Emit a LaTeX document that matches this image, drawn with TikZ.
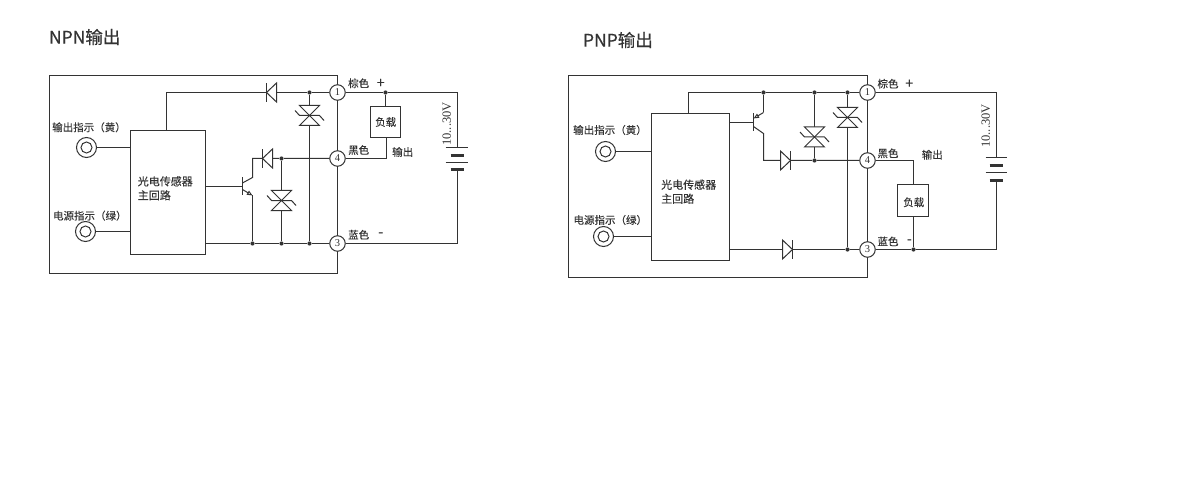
\documentclass[tikz,border=0pt]{standalone}
\usepackage{fontspec}
\usepackage{xcolor}
\usepackage{tikz}
\usetikzlibrary{shapes,arrows,arrows.meta}
\setmainfont{Liberation Serif}
\newfontfamily\cjk{Noto Sans CJK SC}[FakeBold=0.1]
\newfontfamily\cjkhead{Noto Sans CJK SC}[FakeBold=0.45]
\definecolor{ink}{HTML}{333333}

\begin{document}
\begin{tikzpicture}[x=1pt, y=-1pt, line width=1pt, color=ink]
\tikzstyle{heading} = [font=\cjkhead\fontsize{17.5}{20}\selectfont, anchor=west, inner sep=0]
\tikzstyle{lbl} = [font=\cjk\fontsize{10.5}{13}\selectfont, inner sep=0]
\tikzstyle{mainlbl} = [font=\cjk\fontsize{11}{14}\selectfont, inner sep=0, anchor=west, align=left]
\tikzstyle{sign} = [font=\cjk\fontsize{14}{16}\selectfont, inner sep=0]
\tikzstyle{volt} = [font=\fontsize{12.5}{14}\selectfont, inner sep=0, rotate=90]
\tikzstyle{box} = [rectangle, draw, inner sep=0, outer sep=0]
\tikzstyle{term} = [circle, draw, fill=white, inner sep=0, minimum size=15.5, font=\fontsize{10.5}{12}\selectfont]
\tikzstyle{lamp} = [circle, draw, inner sep=0, minimum size=20]
\tikzstyle{lampcore} = [circle, draw, inner sep=0, minimum size=11]
\tikzstyle{dot} = [circle, fill, inner sep=0, minimum size=4.2]
\tikzstyle{plate} = [line width=2.4pt]
\tikzset{
	diode/.pic = {
		\draw[fill=white] (-10,-9.5) -- (-10,9.5) -- (0,0) -- cycle;
		\draw (0,-9.5) -- (0,9.5);
	},
	tvs/.pic = {
		\draw[fill=white] (-10,-10) -- (10,-10) -- (-10,10) -- (10,10) -- cycle;
		\draw (-14.5,-5) -- (-10,0) -- (10,0) -- (14.5,5);
	}
}
\useasboundingbox (0,0) rectangle (1200,500);

\node[heading] (npnTitle) at (48.5,37) {NPN输出};
\node[box, minimum width=288, minimum height=198] (npnFrame) at (193.5,174.5) {};
\node[box, minimum width=75, minimum height=124] (npnMain) at (168,192.5) {};
\node[mainlbl] (npnMainText) at (137.3,188.3) {光电传感器\\主回路};
\node[lbl] (npnOutText) at (89,127.3) {输出指示（黄）};
\node[lbl] (npnPowText) at (89.8,215.7) {电源指示（绿）};
\node[lamp] (npnOutLamp) at (86.5,147.5) {};
\node[lampcore] (npnOutCore) at (86.5,147.5) {};
\node[lamp] (npnPowLamp) at (85.5,231.5) {};
\node[lampcore] (npnPowCore) at (85.5,231.5) {};
\node[term] (npnPin1) at (337.5,92.5) {1};
\node[term] (npnPin4) at (337.5,158.5) {4};
\node[term] (npnPin3) at (337.5,243.5) {3};
\node[box, minimum width=30, minimum height=31] (npnLoad) at (385.5,122) {};
\node[lbl] (npnLoadText) at (385.7,122) {负载};
\node[lbl] (npnBrown) at (358.7,83.3) {棕色};
\node[sign] (npnPlus) at (380.7,83.3) {+};
\node[lbl] (npnBlack) at (358.7,150) {黑色};
\node[lbl] (npnOutput) at (402.7,152) {输出};
\node[lbl] (npnBlue) at (358.7,234.7) {蓝色};
\node[sign] (npnMinus) at (380.7,234.7) {-};
\node[volt] (npnVolt) at (446.7,124) {10...30V};
\node[dot] (npnDotA) at (309.5,92.5) {};
\node[dot] (npnDotB) at (385.5,92.5) {};
\node[dot] (npnDotC) at (281.5,158.5) {};
\node[dot] (npnDotD) at (252.5,243.5) {};
\node[dot] (npnDotE) at (281.5,243.5) {};
\node[dot] (npnDotF) at (309.5,243.5) {};
\coordinate (npnTop) at (166.5,92.5);
\coordinate (npnBat) at (457.5,92.5);
\coordinate (npnBatEnd) at (457.5,243.5);
\coordinate (npnPlateA) at (457.5,147.5);
\coordinate (npnPlateD) at (457.5,169.5);
\coordinate (npnColl) at (252.5,158.5);
\coordinate (npnCollEnd) at (252.5,177.5);
\coordinate (npnBase) at (242.5,186.5);
\coordinate (npnEmit) at (252.5,195.5);
\coordinate (npnLoadOut) at (386.5,137.5);
\coordinate (npnLoadEnd) at (386.5,158.5);
\draw (npnOutLamp) -- (npnOutLamp -| npnMain.west);
\draw (npnPowLamp) -- (npnPowLamp -| npnMain.west);
\draw (npnMain.north -| npnTop) -- (npnTop) -- (npnDotA) -- (npnPin1);
\draw (npnPin1) -- (npnDotB) -- (npnBat) -- (npnPlateA);
\draw (npnDotB) -- (npnLoad);
\draw (npnLoadOut) -- (npnLoadEnd) -- (npnPin4);
\draw (npnPin4) -- (npnDotC) -- (npnColl) -- (npnCollEnd) -- (242.5,183);
\draw (npnDotA) -- (npnDotF);
\draw (npnDotC) -- (npnDotE);
\draw (npnMain.east |- npnDotD) -- (npnDotD) -- (npnDotE) -- (npnDotF) -- (npnPin3);
\draw (npnPin3) -- (npnBatEnd) -- (npnPlateD);
\draw (npnMain.east |- npnBase) -- (npnBase);
\draw (242.5,177.5) -- (242.5,195.5);
\draw[-{Triangle[open, length=5.5, width=4.5]}] (242.5,189.5) -- (npnEmit);
\draw (npnEmit) -- (npnDotD);
\draw (445.5,147.5) -- (467.5,147.5);
\draw[plate] (450.5,155.5) -- (463.5,155.5);
\draw (445.5,162.5) -- (467.5,162.5);
\draw[plate] (450.5,169.5) -- (463.5,169.5);
\pic[rotate=180] at (266.5,92.5) {diode};
\pic[rotate=180] at (262.5,158.5) {diode};
\pic at (309.5,115.5) {tvs};
\pic at (281.5,200.5) {tvs};

\node[heading] (pnpTitle) at (582.5,40) {PNP输出};
\node[box, minimum width=299, minimum height=202] (pnpFrame) at (718,176.5) {};
\node[box, minimum width=78, minimum height=147] (pnpMain) at (690.5,187) {};
\node[mainlbl] (pnpMainText) at (660.7,191.7) {光电传感器\\主回路};
\node[lbl] (pnpOutText) at (610,130) {输出指示（黄）};
\node[lbl] (pnpPowText) at (610.3,220) {电源指示（绿）};
\node[lamp] (pnpOutLamp) at (605.5,151.5) {};
\node[lampcore] (pnpOutCore) at (605.5,151.5) {};
\node[lamp] (pnpPowLamp) at (603.5,236.5) {};
\node[lampcore] (pnpPowCore) at (603.5,236.5) {};
\node[term] (pnpPin1) at (867.5,92.5) {1};
\node[term] (pnpPin4) at (867.5,160.5) {4};
\node[term] (pnpPin3) at (867.5,249.5) {3};
\node[box, minimum width=31, minimum height=32] (pnpLoad) at (913,200.5) {};
\node[lbl] (pnpLoadText) at (913.7,202.3) {负载};
\node[lbl] (pnpBrown) at (888,83.7) {棕色};
\node[sign] (pnpPlus) at (909.3,84) {+};
\node[lbl] (pnpBlack) at (888,153.3) {黑色};
\node[lbl] (pnpOutput) at (932.3,154.7) {输出};
\node[lbl] (pnpBlue) at (888,241.3) {蓝色};
\node[sign] (pnpMinus) at (909.3,241.7) {-};
\node[volt] (pnpVolt) at (985.7,126) {10...30V};
\node[dot] (pnpDotA) at (763.5,92.5) {};
\node[dot] (pnpDotB) at (814.5,92.5) {};
\node[dot] (pnpDotC) at (847.5,92.5) {};
\node[dot] (pnpDotD) at (814.5,160.5) {};
\node[dot] (pnpDotE) at (847.5,249.5) {};
\node[dot] (pnpDotF) at (913.5,249.5) {};
\coordinate (pnpTop) at (688.5,92.5);
\coordinate (pnpBat) at (996.5,92.5);
\coordinate (pnpBatEnd) at (996.5,249.5);
\coordinate (pnpPlateA) at (996.5,157.5);
\coordinate (pnpPlateD) at (996.5,180.5);
\coordinate (pnpEmit) at (763.5,112.5);
\coordinate (pnpCollEnd) at (763.5,133.5);
\coordinate (pnpColl) at (763.5,160.5);
\coordinate (pnpBase) at (753.5,122.5);
\coordinate (pnpLoadIn) at (913.5,160.5);
\draw (pnpOutLamp) -- (pnpOutLamp -| pnpMain.west);
\draw (pnpPowLamp) -- (pnpPowLamp -| pnpMain.west);
\draw (pnpMain.north -| pnpTop) -- (pnpTop) -- (pnpDotA) -- (pnpDotB) -- (pnpDotC) -- (pnpPin1);
\draw (pnpPin1) -- (pnpBat) -- (pnpPlateA);
\draw (pnpDotA) -- (pnpEmit);
\draw[-{Triangle[open, length=5.5, width=4.5]}] (pnpEmit) -- (753.5,118.5);
\draw (753.5,126.5) -- (pnpCollEnd) -- (pnpColl) -- (pnpDotD) -- (pnpPin4);
\draw (pnpMain.east |- pnpBase) -- (pnpBase);
\draw (753.5,113.5) -- (753.5,131.5);
\draw (pnpDotB) -- (pnpDotD);
\draw (pnpDotC) -- (pnpDotE);
\draw (pnpPin4) -- (pnpLoadIn) -- (pnpLoadIn |- pnpLoad.north);
\draw (pnpLoadIn |- pnpLoad.south) -- (pnpDotF);
\draw (pnpMain.east |- pnpDotE) -- (pnpDotE) -- (pnpPin3);
\draw (pnpPin3) -- (pnpDotF) -- (pnpBatEnd) -- (pnpPlateD);
\draw (985.5,157.5) -- (1006.5,157.5);
\draw[plate] (989.5,165.5) -- (1002.5,165.5);
\draw (985.5,172.5) -- (1006.5,172.5);
\draw[plate] (989.5,180.5) -- (1002.5,180.5);
\pic at (790.5,160.5) {diode};
\pic at (792.5,249.5) {diode};
\pic at (814.5,137) {tvs};
\pic at (847.5,117.5) {tvs};
\end{tikzpicture}
\end{document}
